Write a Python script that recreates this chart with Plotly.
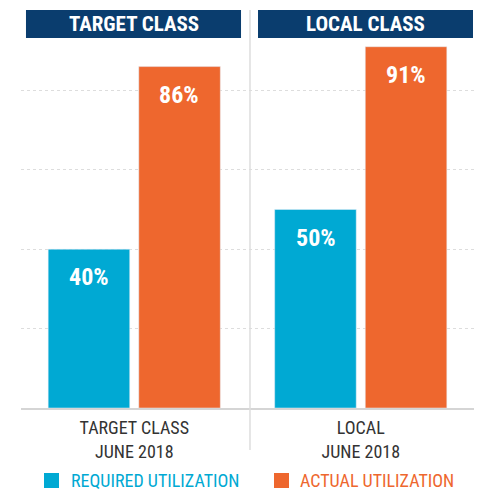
import plotly.graph_objects as go

# =============================================================================
# Data
# =============================================================================

categories = ["TARGET CLASS<br>JUNE 2018", "LOCAL<br>JUNE 2018"]
headers = ["TARGET CLASS", "LOCAL CLASS"]
series_names = ["REQUIRED UTILIZATION", "ACTUAL UTILIZATION"]
required = [40, 50]
actual = [86, 91]

blue = "#00a9d3"
orange = "#ee672e"
navy = "#0a3d6e"
font_name = "Roboto Condensed"

# =============================================================================
# Grouped bars
# =============================================================================

fig = go.Figure()
fig.add_trace(go.Bar(x=categories, y=required, marker_color=blue,
                     name=series_names[0], showlegend=False))
fig.add_trace(go.Bar(x=categories, y=actual, marker_color=orange,
                     name=series_names[1], showlegend=False))

# value labels near the top of each bar
for vals, shift in [(required, -45), (actual, 45)]:
    for cat, v in zip(categories, vals):
        fig.add_annotation(x=cat, y=v, text="%d%%" % v, showarrow=False,
                           xshift=shift, yshift=-28,
                           font=dict(family=font_name, size=24, color="white",
                                     weight="bold"))

# header boxes above each group
for x0, x1, label in [(0.011, 0.4857, headers[0]), (0.5232, 0.9978, headers[1])]:
    fig.add_shape(type="rect", xref="paper", yref="paper",
                  x0=x0, x1=x1, y0=0.932, y1=1.0025,
                  fillcolor=navy, line_width=0, layer="above")
    fig.add_annotation(xref="paper", yref="paper", x=(x0 + x1) / 2, y=0.967,
                       xanchor="center", yanchor="middle",
                       text=label, showarrow=False,
                       font=dict(family=font_name, size=21, color="white",
                                 weight="bold"))

# divider between the two groups
fig.add_shape(type="line", xref="paper", yref="paper",
              x0=0.5055, x1=0.5055, y0=-0.106, y1=1.0025,
              line=dict(color="#dddddd", width=1.5))

# legend drawn by hand (a real legend squeezes the plot area)
for x0, x1, tx, name, col in [(0.0508, 0.0839, 0.106, series_names[0], blue),
                              (0.5585, 0.5916, 0.6115, series_names[1], orange)]:
    fig.add_shape(type="rect", xref="paper", yref="paper",
                  x0=x0, x1=x1, y0=-0.2015, y1=-0.1637,
                  fillcolor=col, line_width=0)
    fig.add_annotation(xref="paper", yref="paper", x=tx, y=-0.1814,
                       xanchor="left", yanchor="middle", text=name,
                       showarrow=False,
                       font=dict(family=font_name, size=18, color=col))

fig.update_layout(
    width=500, height=500,
    margin=dict(l=21, r=26, t=11, b=92),
    paper_bgcolor="white", plot_bgcolor="white",
    barmode="group", bargap=0.2, bargroupgap=0.1,
    font=dict(family=font_name, size=20, color="#333333"),
)
fig.update_xaxes(showline=True, linecolor="#d5d5d5", linewidth=1.5, ticks="",
                 ticklabelstandoff=3, tickfont=dict(size=18, color="#333333"))
fig.update_yaxes(range=[0, 100], dtick=20, showticklabels=False,
                 showgrid=True, gridcolor="#dddddd", griddash="dot",
                 zeroline=False)

fig.write_html("out.html", config={"displayModeBar": False},
               post_script="document.body.style.margin='0';")
